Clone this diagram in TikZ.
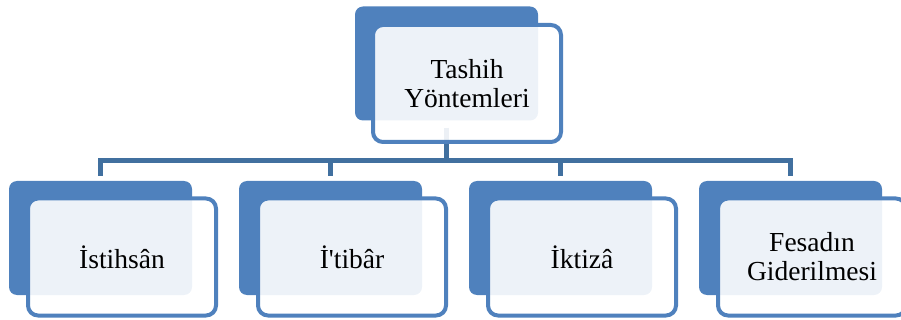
\documentclass[tikz,border=0pt]{standalone}
\usepackage{fontspec}
\setmainfont{Liberation Serif}
% plain family without TeX ligature mapping, so ' stays straight
\newfontfamily\cardfont{Liberation Serif}
\definecolor{boxblue}{HTML}{4F81BD}
\definecolor{linkblue}{HTML}{41709F}

\begin{document}
\begin{tikzpicture}[x=1pt,y=-1pt,
  backbox/.style={rectangle, fill=boxblue, rounded corners=8pt,
    minimum width=183pt, minimum height=114pt, inner sep=0pt},
  frontbox/.style={rectangle, draw=boxblue, line width=4pt, fill=white,
    fill opacity=0.9, draw opacity=1, text opacity=1, rounded corners=10pt,
    minimum width=188pt, minimum height=117pt, inner sep=0pt,
    font=\cardfont\fontsize{27.5}{29}\selectfont, align=center, text=black},
  link/.style={draw=linkblue, line width=5pt}]
\useasboundingbox (0,0) rectangle (901,320);

% back plates
\node[backbox] (tb) at (446.5,63.5) {};
\node[backbox] (c1b) at (100.5,238) {};
\node[backbox] (c2b) at (330.5,238) {};
\node[backbox] (c3b) at (560.5,238) {};
\node[backbox] (c4b) at (790.5,238) {};

% connector tree
\coordinate (bus) at (446.5,160.5);
\draw[link] ([yshift=-7pt]tb.south) -- (tb.south |- bus);
\draw[link] ([yshift=5pt]c1b.north) -- (c1b.north |- bus)
  -- (c4b.north |- bus) -- ([yshift=5pt]c4b.north);
\draw[link] (c2b.north |- bus) -- ([yshift=5pt]c2b.north);
\draw[link] (c3b.north |- bus) -- ([yshift=5pt]c3b.north);

% front cards
\node[frontbox] (t) at (467,83.5) {Tashih\\Yöntemleri};
\node[frontbox] (c1) at (122,257) {İstihsân};
\node[frontbox] (c2) at (352,257) {İ'tibâr};
\node[frontbox] (c3) at (582,257) {İktizâ};
\node[frontbox] (c4) at (812,257) {Fesadın\\Giderilmesi};
\end{tikzpicture}
\end{document}
